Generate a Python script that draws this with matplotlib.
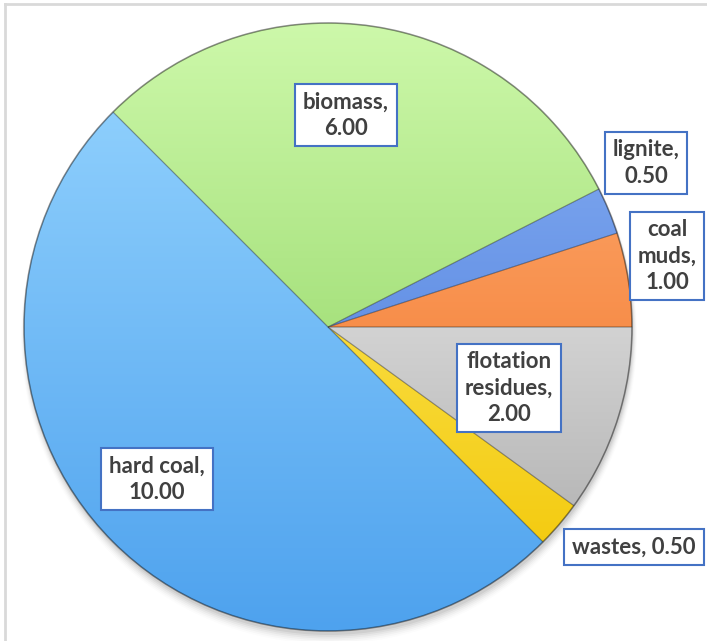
import numpy as np
import matplotlib
matplotlib.use("Agg")
import matplotlib.pyplot as plt
from matplotlib.colors import LinearSegmentedColormap
from matplotlib.patches import Circle

# counterclockwise order starting at the lower right
categories = ["wastes", "flotation\nresidues", "coal\nmuds", "lignite", "biomass", "hard coal"]
values = [0.5, 2.0, 1.0, 0.5, 6.0, 10.0]

# (top colour, bottom colour) for the gradient fill of each slice
grad_colors = [
    ("#fff27a", "#f2c500"),
    ("#ffffff", "#a6a6a6"),
    ("#ffb27a", "#f06a1a"),
    ("#8cb4f5", "#3d6fd6"),
    ("#cdf8aa", "#82cc52"),
    ("#98d6ff", "#4ea2ee"),
]

label_text = [
    "wastes, 0.50",
    "flotation\nresidues,\n2.00",
    "coal\nmuds,\n1.00",
    "lignite,\n0.50",
    "biomass,\n6.00",
    "hard coal,\n10.00",
]
# label box centres in pixels from top-left
label_pos = [(634, 547), (509, 388), (667, 256), (646, 163), (346, 115), (157, 479)]

W, H = 707, 641
fig = plt.figure(figsize=(W / 100, H / 100), dpi=100)
ax = fig.add_axes([0, 0, 1, 1])

cx, cy, r = 328, H - 327, 304

# soft shadow under the pie
for i, a in enumerate(np.linspace(0.05, 0.012, 6)):
    ax.add_patch(Circle((cx + 1, cy - 4 - i), r + i * 0.8, color="black", alpha=a, lw=0, zorder=0))

wedges, _ = ax.pie(values, startangle=-45, counterclock=True, center=(cx, cy), radius=r,
                   colors=[c[1] for c in grad_colors],
                   wedgeprops=dict(edgecolor="#00000033", linewidth=0.8))

yy = np.linspace(0, 1, 256).reshape(-1, 1)
for w, (top, bot) in zip(wedges, grad_colors):
    cmap = LinearSegmentedColormap.from_list("g", [bot, top])
    im = ax.imshow(np.repeat(yy, 2, axis=1), cmap=cmap, origin="lower",
                   extent=[cx - r, cx + r, cy - r, cy + r], aspect="auto", zorder=1.5)
    im.set_clip_path(w)
    w.set_facecolor("none")
    w.set_zorder(2)

# darker rim round the pie
ax.add_patch(Circle((cx, cy), r, fill=False, ec="#00000055", lw=1.2, zorder=3))

for txt, (px, py) in zip(label_text, label_pos):
    ax.text(px, H - py, txt, ha="center", va="center", multialignment="center",
            fontsize=16, fontweight="bold", color="#404040", family=["Lato", "DejaVu Sans"],
            linespacing=1.3, zorder=5,
            bbox=dict(boxstyle="square,pad=0.35", fc="white", ec="#4472c4", lw=1.5))

ax.set_xlim(0, W)
ax.set_ylim(0, H)
ax.set_aspect("equal")
ax.axis("off")

# chart area border
fig.add_artist(plt.Line2D([5 / W, 1], [1 - 4 / H, 1 - 4 / H], color="#d9d9d9", lw=2))
fig.add_artist(plt.Line2D([5 / W, 5 / W], [0, 1 - 4 / H], color="#d9d9d9", lw=2))

fig.savefig("out.png", dpi=100)
